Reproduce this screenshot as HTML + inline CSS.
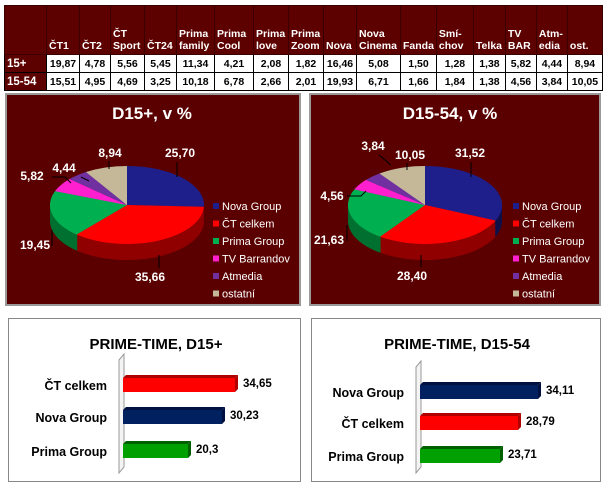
<!DOCTYPE html>
<html><head><meta charset="utf-8"><style>
body{margin:0;width:605px;height:487px;background:#fff;position:relative;overflow:hidden;font-family:"Liberation Sans",sans-serif}
table{position:absolute;left:4px;top:5px;border-collapse:collapse;font-size:10.5px;font-weight:bold}
td{border:1px solid #000;padding:0 2px;text-align:center;height:17px}
tr.h td{background:#5c0000;color:#fff;text-align:left;vertical-align:bottom;height:46px;border-color:#3a0000;line-height:12px;padding-bottom:2px}
td.l{background:#5c0000;color:#fff;text-align:left;font-size:11.5px}
.p{position:absolute;background:#5a0000;border:2px solid #999;box-sizing:border-box}
.b{position:absolute;background:#fff;border:1px solid #888;box-sizing:border-box}
</style></head><body>
<table>
<colgroup><col style="width:42px"><col style="width:33px"><col style="width:31px"><col style="width:34px"><col style="width:32px"><col style="width:38px"><col style="width:39px"><col style="width:35px"><col style="width:35px"><col style="width:33px"><col style="width:44px"><col style="width:35px"><col style="width:37px"><col style="width:32px"><col style="width:31px"><col style="width:31px"><col style="width:35px"></colgroup>
<tr class="h"><td></td><td>ČT1</td><td>ČT2</td><td>ČT Sport</td><td>ČT24</td><td>Prima family</td><td>Prima Cool</td><td>Prima love</td><td>Prima Zoom</td><td>Nova</td><td>Nova Cinema</td><td>Fanda</td><td>Smí-chov</td><td>Telka</td><td>TV BAR</td><td>Atm-edia</td><td>ost.</td></tr>
<tr><td class="l">15+</td><td>19,87</td><td>4,78</td><td>5,56</td><td>5,45</td><td>11,34</td><td>4,21</td><td>2,08</td><td>1,82</td><td>16,46</td><td>5,08</td><td>1,50</td><td>1,28</td><td>1,38</td><td>5,82</td><td>4,44</td><td>8,94</td></tr>
<tr><td class="l">15-54</td><td>15,51</td><td>4,95</td><td>4,69</td><td>3,25</td><td>10,18</td><td>6,78</td><td>2,66</td><td>2,01</td><td>19,93</td><td>6,71</td><td>1,66</td><td>1,84</td><td>1,38</td><td>4,56</td><td>3,84</td><td>10,05</td></tr>
</table>
<div class="p" style="left:5px;top:93px;width:296px;height:213px"><svg id="pa" width="292" height="209"></svg></div>
<div class="p" style="left:309px;top:93px;width:292px;height:213px"><svg id="pb" width="288" height="209"></svg></div>
<div class="b" style="left:8px;top:318px;width:293px;height:164px"><svg id="ba" width="291" height="162"></svg></div>
<div class="b" style="left:311px;top:318px;width:290px;height:164px"><svg id="bb" width="288" height="162"></svg></div>
<script>
var NS="http://www.w3.org/2000/svg";
function el(s,t,a,txt){var e=document.createElementNS(NS,t);for(var k in a)e.setAttribute(k,a[k]);if(txt!=null)e.textContent=txt;s.appendChild(e);return e;}
var cols=["#1f1f8c","#ff0000","#00b050","#ff1fcf","#7030a0","#c4b898"],dark=["#10104a","#900000","#007030","#a01080","#401060","#8a8070"];
var names=["Nova Group","ČT celkem","Prima Group","TV Barrandov","Atmedia","ostatní"];
function pie(id,title,vals,labs,cx,cy,lx,lpos){
 var s=document.getElementById(id),rx=77,ry=39,d=16,tot=0;vals.forEach(v=>tot+=v);
 el(s,"text",{x:cx+25,y:24,fill:"#fff","font-size":"17","font-weight":"bold","text-anchor":"middle"},title);
 function pt(a,o){return [cx+rx*Math.sin(a),cy-ry*Math.cos(a)+o];}
 function arc(a0,a1,o,c){var p0=pt(a0,o),p1=pt(a1,o),lg=a1-a0>Math.PI?1:0;
  el(s,"path",{d:"M"+cx+","+(cy+o)+"L"+p0+"A"+rx+","+ry+" 0 "+lg+" 1 "+p1+"Z",fill:c});}
 for(var o=d;o>0;o--){var a=0;vals.forEach((v,i)=>{var b=a+v/tot*2*Math.PI;arc(a,b,o,dark[i]);a=b;});}
 var a=0;vals.forEach((v,i)=>{var b=a+v/tot*2*Math.PI;arc(a,b,0,cols[i]);a=b;});
 lpos.forEach((p,i)=>{el(s,"polyline",{points:p[2],stroke:"#000",fill:"none","stroke-width":"1"});
  el(s,"text",{x:p[0],y:p[1],fill:"#fff","font-size":"12","font-weight":"bold","text-anchor":"middle"},labs[i]);});
 names.forEach((n,i)=>{var y=115+i*17.5;el(s,"rect",{x:lx,y:y-7,width:6,height:6,fill:cols[i]});
  el(s,"text",{x:lx+9,y:y,fill:"#fff","font-size":"11"},n);});
}
pie("pa","D15+, v %",[25.70,35.66,19.45,5.82,4.44,8.94],["25,70","35,66","19,45","5,82","4,44","8,94"],120,110,206,
 [[173,62,"170,67 170,82"],[143,186,"152,160 152,173"],[28,154,"45,135 45,151"],[25,85,"45,82 58,82 64,88"],[57,77,"74,82 82,86"],[103,62,"102,66 102,74"]]);
pie("pb","D15-54, v %",[31.52,28.40,21.63,4.56,3.84,10.05],["31,52","28,40","21,63","4,56","3,84","10,05"],114,110,202,
 [[159,62,"160,67 160,82"],[101,185,"110,160 110,172"],[18,149,"36,130 36,146"],[21,105,"36,101 50,101 55,96"],[62,55,"68,60 80,70"],[99,64,"96,68 96,75"]]);
function bars(id,title,tx,items,wx){
 var s=document.getElementById(id);
 el(s,"text",{x:tx,y:30,fill:"#000","font-size":"15","font-weight":"bold","text-anchor":"middle"},title);
 el(s,"polygon",{points:(wx)+","+(items[0][3]-18)+" "+(wx+5)+","+(items[0][3]-24)+" "+(wx+5)+",148 "+wx+",154",fill:"#f4f4f4",stroke:"#999"});
 items.forEach(it=>{var y=it[3],w=it[2];
  el(s,"rect",{x:wx+4,y:y,width:w,height:14,fill:it[4]});
  el(s,"polygon",{points:(wx+4+w)+","+y+" "+(wx+7+w)+","+(y-3)+" "+(wx+7+w)+","+(y+11)+" "+(wx+4+w)+","+(y+14),fill:it[5]});
  el(s,"polygon",{points:(wx+4)+","+y+" "+(wx+7)+","+(y-3)+" "+(wx+7+w)+","+(y-3)+" "+(wx+4+w)+","+y,fill:it[5]});
  el(s,"text",{x:wx-12,y:y+12,fill:"#000","font-size":"12.5","font-weight":"bold","text-anchor":"end"},it[0]);
  el(s,"text",{x:wx+12+w,y:y+9,fill:"#000","font-size":"11.5","font-weight":"bold"},it[1]);});
}
bars("ba","PRIME-TIME, D15+",147,[["ČT celkem","34,65",112,59,"#ff0000","#b00000"],["Nova Group","30,23",99,91,"#002060","#001040"],["Prima Group","20,3",65,125,"#00a000","#006000"]],110);
bars("bb","PRIME-TIME, D15-54",145,[["Nova Group","34,11",118,66,"#002060","#001040"],["ČT celkem","28,79",98,97,"#ff0000","#b00000"],["Prima Group","23,71",80,130,"#00a000","#006000"]],104);
</script>
</body></html>
